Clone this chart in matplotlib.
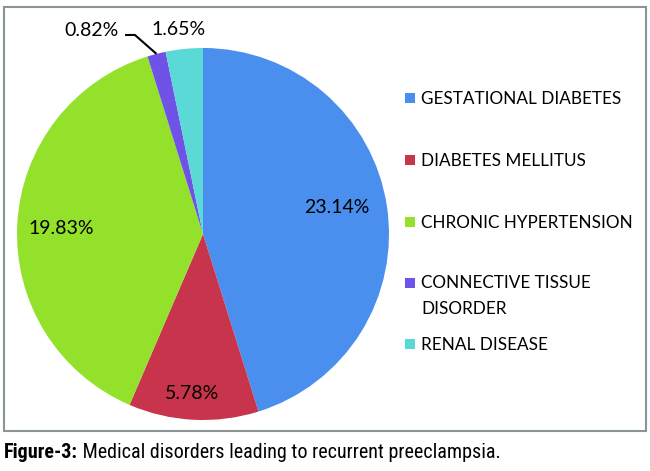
import matplotlib
matplotlib.use("Agg")
import matplotlib.pyplot as plt
from matplotlib import font_manager
import numpy as np
from matplotlib.patches import Rectangle

categories = ["GESTATIONAL DIABETES", "DIABETES MELLITUS", "CHRONIC HYPERTENSION",
              "CONNECTIVE TISSUE\nDISORDER", "RENAL DISEASE"]
values = [23.14, 5.78, 19.83, 0.82, 1.65]
colors = ["#4A8FEE", "#C8344B", "#93E12B", "#6F52E6", "#5AD9D6"]
caption_bold = "Figure-3:"
caption_text = " Medical disorders leading to recurrent preeclampsia."


def first_available(names):
    for n in names:
        try:
            font_manager.findfont(font_manager.FontProperties(family=n),
                                  fallback_to_default=False)
            return n
        except Exception:
            continue
    return "DejaVu Sans"


W, H = 650, 471
fig = plt.figure(figsize=(W / 100, H / 100), dpi=100)
fig.patch.set_facecolor("white")

font = ["Lato", "DejaVu Sans"]
condensed = first_available(["Liberation Sans Narrow", "Roboto Condensed", "Open Sans Condensed",
                             "DejaVu Sans Condensed", "Noto Sans Condensed"])
capfont = [condensed, "DejaVu Sans"]
cap_stretch = "condensed"

# frame box
fig.patches.append(Rectangle((4 / W, 1 - 431 / H), 642 / W, 424 / H, transform=fig.transFigure,
                             fill=False, edgecolor="#8A9494", linewidth=1.5))

cx, cy, r = 203, 234, 186
ax = fig.add_axes([(cx - r) / W, 1 - (cy + r) / H, 2 * r / W, 2 * r / H])
wedges, _ = ax.pie(values, colors=colors, startangle=90, counterclock=False,
                   radius=1, wedgeprops=dict(linewidth=0))
ax.set_xlim(-1, 1)
ax.set_ylim(-1, 1)
ax.set_aspect("equal")
ax.axis("off")

labels = [f"{v:.2f}%" for v in values]
# label placement (distance from centre, angular offset in degrees from wedge middle)
inside_place = [(0.735, 2.7), (0.86, -1.0), (0.765, 0.9)]
for i, w in enumerate(wedges):
    midd = (w.theta1 + w.theta2) / 2
    mid = np.deg2rad(midd)
    if i < 3:
        d, off = inside_place[i]
        a = np.deg2rad(midd + off)
        ax.text(d * np.cos(a), d * np.sin(a), labels[i], ha="center", va="center",
                fontsize=14, family=font)
    elif i == 3:
        ex, ey = 1.0 * np.cos(mid), 1.0 * np.sin(mid)
        ax.plot([ex, -0.366, -0.419], [ey, 1.07, 1.07], color="black", lw=1.5,
                clip_on=False, solid_capstyle="butt")
        ax.text(-0.452, 1.094, labels[i], ha="right", va="center", fontsize=14, family=font)
    else:
        ax.text(-0.132, 1.099, labels[i], ha="center", va="center", fontsize=14, family=font)

# legend
leg_rows = [98, 160, 222, 283, 344]
for i, (lab, c) in enumerate(zip(categories, colors)):
    y = leg_rows[i]
    fig.patches.append(Rectangle((405 / W, 1 - (y + 5) / H), 10 / W, 10 / H,
                                 transform=fig.transFigure, facecolor=c, edgecolor="none"))
    fig.text(421 / W, 1 - (y - 7.5) / H, lab, ha="left", va="top", fontsize=12.3,
             family=font, linespacing=1.75)

t1 = fig.text(4 / W, 1 - 458 / H, caption_bold, ha="left", va="baseline", fontsize=14.5,
              fontweight="bold", family=capfont, fontstretch=cap_stretch)
fig.canvas.draw()
bb = t1.get_window_extent()
fig.text(bb.x1 / W, 1 - 458 / H, caption_text, ha="left", va="baseline", fontsize=14.5,
         family=capfont, fontstretch=cap_stretch)

fig.savefig("out.png", dpi=100)
